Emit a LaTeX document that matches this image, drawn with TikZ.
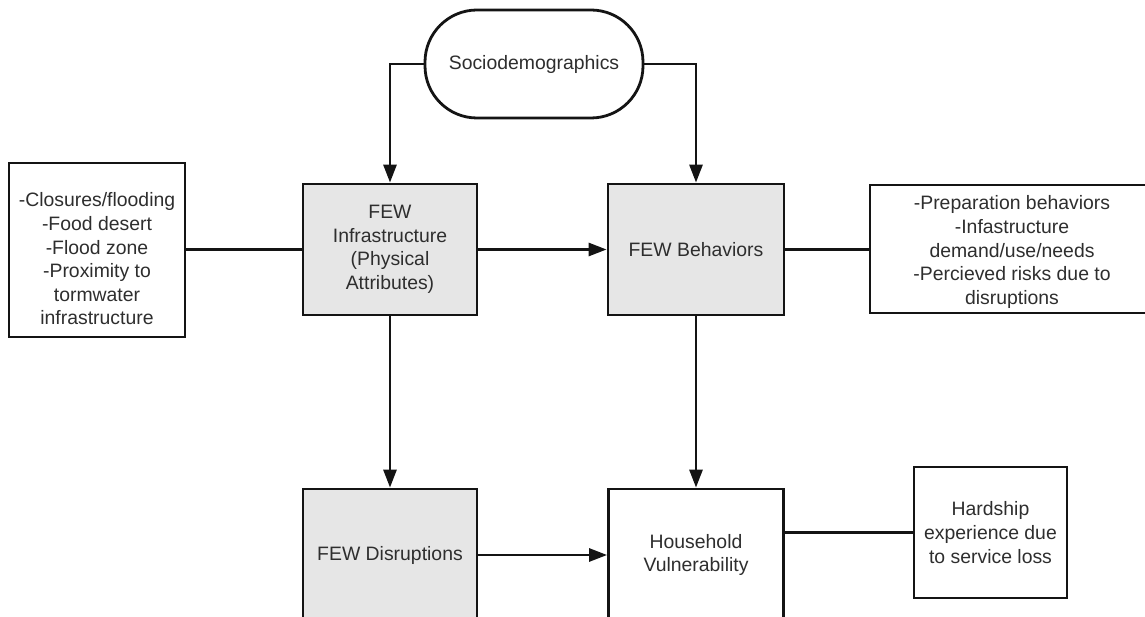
\documentclass[tikz,border=0pt]{standalone}
\usepackage{fontspec}
\setmainfont{Liberation Sans}
\usetikzlibrary{arrows.meta}
\definecolor{boxgray}{HTML}{E6E6E6}
\definecolor{txt}{HTML}{2E2E2E}
\definecolor{ink}{HTML}{141414}
\tikzset{
  base/.style={draw=ink, line width=2.8pt, inner sep=0pt, align=center,
    text=txt, font=\fontsize{19.4}{23.6}\selectfont},
  plainbox/.style={base, rectangle, fill=white},
  graybox/.style={base, rectangle, fill=boxgray},
  pill/.style={base, rectangle, rounded corners=52pt, fill=white},
  label/.style={inner sep=0pt, align=center, text=txt, font=\fontsize{19.4}{23.6}\selectfont},
  link/.style={draw=ink, line width=2.8pt},
  arr/.style={link, -{Triangle[length=18pt,width=13pt]}}
}
\begin{document}
\begin{tikzpicture}[x=1pt, y=-1pt]
\fill[white] (0,0) rectangle (1145,617);
\useasboundingbox (0,0) rectangle (1145,617);
\clip (0,0) rectangle (1145,617);

% top: sociodemographic driver
\node[pill, minimum width=218pt, minimum height=108pt] (socio) at (534,64) {Sociodemographics};

% middle row
\node[plainbox, minimum width=176pt, minimum height=174pt] (left) at (97,250) {};
\node[label] (leftlbl) at (97,259)
  {-Closures/flooding\\-Food desert\\-Flood zone\\-Proximity to\\tormwater\\infrastructure};
\node[graybox, minimum width=174pt, minimum height=131pt] (infra) at (390,249.5)
  {FEW\\Infrastructure\\(Physical\\Attributes)};
\node[graybox, minimum width=176pt, minimum height=131pt] (behav) at (696,249.5)
  {FEW Behaviors};
\node[plainbox, minimum width=284pt, minimum height=128pt] (right) at (1012,249) {};
\node[label] (rightlbl) at (1012,252)
  {-Preparation behaviors\\-Infastructure\\demand/use/needs\\-Percieved risks due to\\disruptions};

% bottom row
\node[graybox, minimum width=174pt, minimum height=132pt] (disr) at (390,555)
  {FEW Disruptions};
\node[plainbox, minimum width=175pt, minimum height=132pt] (hh) at (696,555)
  {Household\\Vulnerability};
\node[plainbox, minimum width=153pt, minimum height=131pt] (hard) at (990.5,532.5)
  {Hardship\\experience due\\to service loss};

% connectors
\draw[arr] (socio.west) -| (infra.north);
\draw[arr] (socio.east) -| (behav.north);
\draw[link] (left.east |- infra.west) -- (infra.west);
\draw[arr] (infra.east) -- (behav.west);
\draw[link] (behav.east) -- (right.west |- behav.east);
\draw[arr] (infra.south) -- (disr.north);
\draw[arr] (behav.south) -- (hh.north);
\draw[arr] (disr.east) -- (hh.west);
\draw[link] (hard.west -| hh.east) -- (hard.west);
\end{tikzpicture}
\end{document}
